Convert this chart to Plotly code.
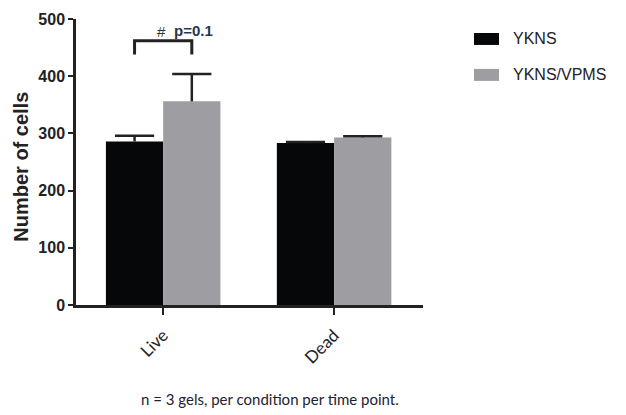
import plotly.graph_objects as go

categories = ["Live", "Dead"]
series_names = ["YKNS", "YKNS/VPMS"]
ykns_values = [286, 283]
ykns_err = [10, 2]
vpms_values = [356, 293]
vpms_err = [48, 2]
y_ticks = [0, 100, 200, 300, 400, 500]
sig_label_hash = "#"
sig_label_p = "p=0.1"
sig_top = 462
sig_bottom = 438
caption = "n = 3 gels, per condition per time point."

colors = ["#050709", "#9e9ea2"]
bargap = 0.33
group_w = 1 - bargap
pos = list(range(len(categories)))
offsets = [-group_w / 4, group_w / 4]

fig = go.Figure()
series = [(series_names[0], ykns_values, ykns_err, colors[0]),
          (series_names[1], vpms_values, vpms_err, colors[1])]
for (name, vals, errs, col), off in zip(series, offsets):
    fig.add_trace(go.Bar(
        x=pos, y=vals, name=name, marker=dict(color=col, line=dict(width=0)),
        showlegend=False,
    ))
for (name, vals, errs, col), off in zip(series, offsets):
    xs = [p + off for p in pos]
    tops = [v + e for v, e in zip(vals, errs)]
    # upward-only error bar: vertical stem + top cap
    fig.add_trace(go.Scatter(
        x=xs, y=tops, mode="markers",
        marker=dict(symbol="line-ew", size=28, line=dict(width=2.5, color="#222222")),
        error_y=dict(type="data", array=[0] * len(errs), arrayminus=errs, symmetric=False,
                     color="#222222", thickness=2.5, width=0),
        showlegend=False, hoverinfo="skip",
    ))

fig.update_layout(
    width=626, height=415, barmode="group", bargap=bargap, bargroupgap=0,
    plot_bgcolor="white", paper_bgcolor="white",
    margin=dict(l=76, r=203, t=19, b=110),
    xaxis=dict(range=[-0.51, 1.52], tickvals=pos, ticktext=categories,
               showline=True, linecolor="#222222", linewidth=2.5,
               ticks="outside", ticklen=7, tickwidth=2, tickcolor="#222222",
               tickangle=-45, ticklabelstandoff=4,
               tickfont=dict(family="Lato, Carlito, sans-serif", size=17, color="#222222"),
               showgrid=False, zeroline=False),
    yaxis=dict(range=[0, 500], tickvals=y_ticks, showline=True, linecolor="#222222", linewidth=2.5,
               ticks="outside", ticklen=5, tickwidth=2, tickcolor="#222222",
               tickfont=dict(family="Liberation Sans, Arial", size=16, color="#222222", weight="bold"),
               showgrid=False, zeroline=False),
)

# y-axis title
fig.add_annotation(text="<b>Number of cells</b>", xref="paper", yref="paper",
                   x=(21 - 76) / 347, y=(305.5 - 167) / 286.5, xanchor="center", yanchor="middle",
                   textangle=-90, showarrow=False,
                   font=dict(family="Liberation Sans, Arial", size=20, color="#222222"))

# significance bracket between the two Live bars
xl, xr = pos[0] + offsets[0], pos[0] + offsets[1]
fig.add_shape(type="path", xref="x", yref="y",
              path=f"M {xl},{sig_bottom} L {xl},{sig_top} L {xr},{sig_top} L {xr},{sig_bottom}",
              line=dict(color="#222222", width=3))
fig.add_annotation(text=sig_label_hash, xref="x", yref="y", x=-0.01, y=sig_top, yanchor="bottom",
                   showarrow=False, yshift=-1,
                   font=dict(family="Liberation Sans, Arial", size=15, color="#333333"))
fig.add_annotation(text="<b>" + sig_label_p + "</b>", xref="x", yref="y", x=0.05, y=sig_top,
                   xanchor="left", yanchor="bottom", showarrow=False, yshift=0,
                   font=dict(family="Liberation Sans, Arial", size=15, color="#2a3550"))

# legend
for i, (name, col) in enumerate(zip(series_names, colors)):
    yc = 39 + i * 36
    fig.add_shape(type="rect", xref="paper", yref="paper",
                  x0=(474 - 76) / 347, x1=(499 - 76) / 347,
                  y0=(305.5 - yc - 6) / 286.5, y1=(305.5 - yc + 6) / 286.5,
                  fillcolor=col, line=dict(width=0))
    fig.add_annotation(text=name, xref="paper", yref="paper", x=(511 - 76) / 347,
                       y=(305.5 - yc) / 286.5, xanchor="left", yanchor="middle", showarrow=False,
                       font=dict(family="Liberation Sans, Arial", size=16, color="#222222"))

# caption
fig.add_annotation(text=caption, xref="paper", yref="paper", x=(270 - 76) / 347,
                   y=(305.5 - 400) / 286.5, xanchor="center", yanchor="middle", showarrow=False,
                   font=dict(family="Lato, Carlito, sans-serif", size=15, color="#222233"))

fig.write_html("out.html")
